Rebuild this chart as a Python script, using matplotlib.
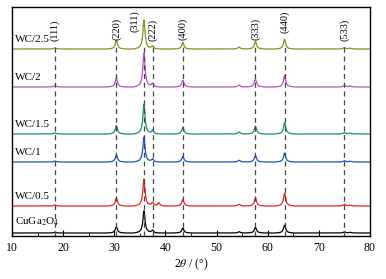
import matplotlib
matplotlib.use("Agg")
import matplotlib.pyplot as plt
import numpy as np

plt.rcParams['font.family'] = ['Liberation Serif', 'DejaVu Serif']
plt.rcParams['mathtext.fontset'] = 'stix'

# samples, bottom to top
samples = ['CuGa$_2$O$_4$', 'WC/0.5', 'WC/1', 'WC/1.5', 'WC/2', 'WC/2.5']
colors = ['#000000', '#e8221f', '#2150c0', '#1e8a78', '#bb4fc2', '#8e8c22']
baselines = [3, 30, 74, 102, 149, 187]          # offset of each pattern
main_peak = [22, 27, 25, 30, 34, 29]            # (311) intensity

# reflection positions (2theta) and relative intensities
peak_pos = [18.4, 30.4, 35.8, 37.5, 43.4, 54.4, 57.6, 63.3, 75.0, 76.1]
rel_int = {
    'CuGa$_2$O$_4$': [0.04, 0.28, 1.0, 0.12, 0.22, 0.06, 0.26, 0.36, 0.05, 0.03],
    'WC/0.5':        [0.04, 0.30, 1.0, 0.12, 0.24, 0.07, 0.30, 0.48, 0.06, 0.03],
    'WC/1':          [0.04, 0.28, 1.0, 0.12, 0.22, 0.07, 0.26, 0.36, 0.05, 0.03],
    'WC/1.5':        [0.04, 0.28, 1.0, 0.12, 0.22, 0.07, 0.26, 0.38, 0.05, 0.03],
    'WC/2':          [0.04, 0.26, 1.0, 0.10, 0.20, 0.06, 0.24, 0.34, 0.05, 0.03],
    'WC/2.5':        [0.04, 0.30, 1.0, 0.10, 0.23, 0.07, 0.26, 0.33, 0.05, 0.03],
}
extra_pos = 38.7          # weak extra reflection only in WC/0.5
extra_int = 0.12

# shape of a single reflection (offset in degrees, fraction of height)
shape_dx = [-2.0, -1.2, -0.8, -0.5, -0.3, -0.2, -0.1, 0.0, 0.1, 0.2, 0.3, 0.5, 0.8, 1.2, 2.0]
shape_f = [0.0, 0.04, 0.09, 0.20, 0.41, 0.61, 0.86, 1.0, 0.86, 0.61, 0.41, 0.20, 0.09, 0.04, 0.0]

# dashed reference lines and labels
hkl_labels = ['(111)', '(220)', '(311)', '(222)', '(400)', '(333)', '(440)', '(533)']
hkl_line = [18.4, 30.4, 35.8, 37.5, 43.4, 57.6, 63.3, 75.0]
hkl_text_x = [18.4, 30.4, 34.0, 37.5, 43.4, 57.6, 63.3, 75.0]
hkl_text_y = [195, 196, 204, 195, 196, 196, 203, 195]

fig = plt.figure(figsize=(3.86, 2.79), dpi=100)
ax = fig.add_axes([12/386, 1-236/279, 358/386, 229/279])

for k, name in enumerate(samples):
    pos = list(peak_pos)
    hts = list(rel_int[name])
    if name == 'WC/0.5':
        pos.append(extra_pos)
        hts.append(extra_int)
    xs = [10.0, 80.0]
    for p in pos:
        xs += [p + d for d in shape_dx]
    xs = np.unique(np.clip(xs, 10, 80))
    ys = np.full(xs.shape, float(baselines[k]))
    for p, h in zip(pos, hts):
        ys += main_peak[k] * h * np.interp(xs, np.array(shape_dx) + p, shape_f, left=0, right=0)
    ax.plot(xs, ys, color=colors[k], lw=0.9)
    ax.text(10.6, baselines[k] + 5, name, fontsize=8, ha='left', va='bottom')

ax.vlines(hkl_line, 0, 189, colors='#444444', linestyles=(0, (4, 3)), lw=0.9, zorder=3)
for lab, x, y in zip(hkl_labels, hkl_text_x, hkl_text_y):
    ax.text(x, y, lab, rotation=90, fontsize=7.5, ha='center', va='bottom')

ax.set_xlim(10, 80)
ax.set_ylim(0, 229)
ax.set_xticks(np.arange(10, 81, 10))
ax.set_xticks(np.arange(15, 80, 10), minor=True)
ax.set_yticks([])
ax.tick_params(axis='x', which='major', direction='in', length=4, labelsize=8.5, pad=4)
ax.tick_params(axis='x', which='minor', direction='in', length=2.5)
for s in ax.spines.values():
    s.set_linewidth(1.0)
ax.set_xlabel('2$\\theta$ / (°)', fontsize=8.5, labelpad=2)

fig.savefig('out.png', dpi=100)
